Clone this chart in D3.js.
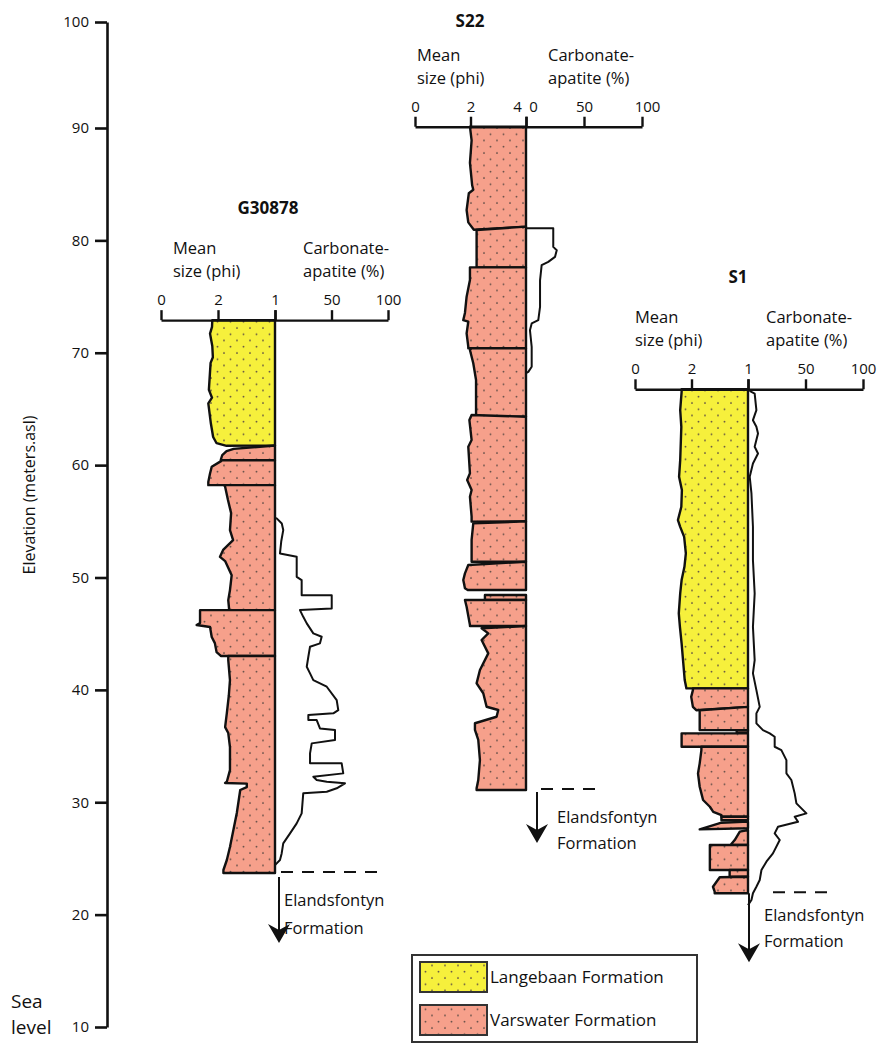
<!DOCTYPE html>
<html>
<head>
<meta charset="utf-8">
<script src="https://cdn.jsdelivr.net/npm/d3@7"></script>
<style>
  body { margin: 0; background: #fff; }
  svg text { font-family: "Open Sans", sans-serif; fill: #111; }
</style>
</head>
<body>
<script>

// ---- Data ----

// Elevation axis (metres above sea level)
const elevationTicks = [10, 20, 30, 40, 50, 60, 70, 80, 90, 100];

// Legend / formations
const formationNames = ["Langebaan Formation", "Varswater Formation"];
const formationColors = ["#f6f03c", "#f6a08b"];

// Boreholes
const columnNames = ["G30878", "S22", "S1"];
const columnTops = [72.9, 90.12, 66.75];        // elevation of the log header
const meanTickValues = [0, 2, 4];
const carbTickValues = [0, 50, 100];
const meanTickLabels = [["0", "2", "1"], ["0", "2", "4"], ["0", "2", "1"]];
const carbTickLabels = [["", "50", "100"], ["0", "50", "100"], ["", "50", "100"]];

// Layers: formation index, top / bottom elevation at the right edge,
// left edge as [elevation, mean size (phi)]
const g30878Layers = [
  {f: 0, top: 72.9, bottom: 61.75, edge: [[72.9, 1.8], [72.3, 1.79], [71.7, 1.72], [70.6, 1.8], [69.6, 1.82], [69.1, 1.74], [66.7, 1.68], [66.0, 1.79], [65.5, 1.66], [63.7, 1.75], [62.5, 1.83], [61.95, 1.95], [61.72, 2.3]]},
  {f: 1, top: 61.75, bottom: 60.44, edge: [[61.45, 2.55], [61.25, 2.3], [60.9, 2.15], [60.5, 2.1], [60.44, 2.1]]},
  {f: 1, top: 60.44, bottom: 58.22, edge: [[60.44, 2.12], [60.38, 2.12], [59.85, 1.78], [59.26, 1.72], [58.51, 1.66], [58.22, 1.66]]},
  {f: 1, top: 58.22, bottom: 47.1, edge: [[58.22, 2.22], [58.07, 2.25], [56.89, 2.35], [55.73, 2.46], [54.22, 2.42], [53.33, 2.53], [52.45, 2.18], [51.84, 2.07], [51.46, 2.25], [50.21, 2.48], [48.88, 2.42], [47.99, 2.36], [47.19, 2.39], [47.1, 2.39]]},
  {f: 1, top: 47.1, bottom: 43.01, edge: [[47.1, 1.37], [45.94, 1.37], [45.77, 1.25], [45.59, 1.72], [44.7, 1.78], [44.16, 1.89], [43.36, 1.95], [43.1, 2.07], [43.01, 2.1]]},
  {f: 1, top: 43.01, bottom: 23.7, edge: [[43.01, 2.36], [42.65, 2.36], [40.87, 2.42], [39.5, 2.38], [37.94, 2.31], [36.69, 2.25], [36.16, 2.36], [34.91, 2.42], [32.86, 2.42], [31.82, 2.31], [31.71, 2.25], [31.66, 3.01], [31.35, 3.01], [31.09, 2.78], [29.04, 2.66], [27.53, 2.54], [26.01, 2.42], [24.86, 2.31], [23.97, 2.19], [23.7, 2.19]]}
];

const s22Layers = [
  {f: 1, top: 90.12, bottom: 81.22, edge: [[90.12, 1.98], [88.9, 2.04], [86.9, 1.98], [84.9, 2.06], [84.5, 2.1], [84.2, 1.94], [82.7, 1.86], [81.6, 1.92], [80.95, 2.12]]},
  {f: 1, top: 81.22, bottom: 77.6, edge: [[80.92, 2.22], [77.66, 2.22], [77.6, 2.22]]},
  {f: 1, top: 77.6, bottom: 70.4, edge: [[77.6, 1.98], [76.47, 1.98], [74.99, 1.86], [73.54, 1.8], [72.91, 1.74], [72.76, 1.92], [71.73, 1.86], [70.54, 1.92], [70.4, 1.92]]},
  {f: 1, top: 70.4, bottom: 64.31, edge: [[70.4, 2.04], [70.25, 1.98], [69.06, 2.1], [67.58, 2.2], [64.61, 2.2], [64.31, 2.2]]},
  {f: 1, top: 64.31, bottom: 55.0, edge: [[64.46, 2.04], [64.01, 1.96], [62.23, 2.04], [61.64, 1.92], [59.27, 1.98], [58.68, 1.88], [57.79, 2.04], [57.19, 1.98], [55.41, 2.04], [54.97, 2.04]]},
  {f: 1, top: 55.0, bottom: 51.4, edge: [[54.82, 2.1], [53.34, 2.04], [51.55, 2.04], [51.4, 2.04]]},
  {f: 1, top: 51.4, bottom: 48.89, edge: [[51.11, 1.92], [50.37, 1.8], [49.78, 1.74], [49.04, 1.8], [48.89, 1.9]]},
  {f: 1, top: 48.44, bottom: 48.0, edge: [[48.44, 2.52], [48.0, 2.52]]},
  {f: 1, top: 48.0, bottom: 45.68, edge: [[48.0, 1.8], [47.4, 1.86], [45.77, 1.98], [45.68, 1.98]]},
  {f: 1, top: 45.68, bottom: 31.09, edge: [[45.48, 2.4], [45.03, 2.64], [44.44, 2.4], [43.25, 2.64], [41.77, 2.34], [40.58, 2.22], [39.7, 2.46], [38.5, 2.58], [38.21, 3.0], [37.61, 2.94], [37.03, 2.16], [36.43, 2.16], [35.54, 2.28], [33.76, 2.34], [31.98, 2.28], [31.24, 2.22], [31.09, 2.22]]}
];

const s1Layers = [
  {f: 0, top: 66.75, bottom: 40.13, edge: [[66.75, 1.65], [66.52, 1.65], [64.89, 1.6], [63.41, 1.64], [60.44, 1.6], [58.96, 1.56], [57.78, 1.66], [56.29, 1.64], [55.11, 1.52], [54.51, 1.6], [53.62, 1.74], [52.14, 1.8], [50.95, 1.75], [49.77, 1.65], [48.58, 1.6], [46.81, 1.55], [45.61, 1.59], [44.14, 1.65], [42.65, 1.7], [40.87, 1.76], [40.13, 1.82]]},
  {f: 1, top: 40.13, bottom: 38.49, edge: [[40.13, 2.05], [39.98, 2.05], [39.38, 1.99], [38.49, 2.05], [38.19, 2.17]]},
  {f: 1, top: 38.49, bottom: 36.42, edge: [[38.19, 2.29], [37.98, 2.29], [36.65, 2.29], [36.42, 2.29]]},
  {f: 1, top: 36.42, bottom: 36.2, edge: [[36.42, 3.6], [36.2, 3.6]]},
  {f: 1, top: 36.13, bottom: 34.94, edge: [[36.13, 1.65], [34.94, 1.65]]},
  {f: 1, top: 34.94, bottom: 28.71, edge: [[34.94, 2.35], [34.64, 2.35], [33.46, 2.29], [32.57, 2.23], [31.38, 2.29], [30.79, 2.35], [30.2, 2.41], [29.6, 2.65], [29.15, 2.77], [28.86, 3.06], [28.71, 3.06]]},
  {f: 1, top: 28.71, bottom: 28.4, edge: [[28.71, 3.06], [28.4, 3.06]]},
  {f: 1, top: 28.28, bottom: 27.68, edge: [[28.18, 3.06], [27.59, 2.29]]},
  {f: 1, top: 27.53, bottom: 26.19, edge: [[27.38, 3.71], [26.64, 3.53], [26.28, 3.41], [26.19, 3.41]]},
  {f: 1, top: 26.19, bottom: 23.97, edge: [[26.19, 2.65], [26.04, 2.65], [24.26, 2.65], [23.97, 2.65]]},
  {f: 1, top: 23.97, bottom: 23.37, edge: [[23.97, 3.35], [23.37, 3.35]]},
  {f: 1, top: 23.37, bottom: 21.9, edge: [[23.32, 3.0], [22.48, 2.76], [22.04, 2.82], [21.9, 2.82]]}
];

// Carbonate-apatite curves: [elevation, percent]
const g30878Carbonate = [[55.3, 0], [55.26, 1.5], [54.8, 6], [54.22, 7.3], [53.2, 5.5], [52.14, 4.4], [51.84, 19.2], [50.06, 19.2], [49.77, 23.6], [48.43, 23.6], [48.43, 50.2], [47.25, 50.2], [47.1, 22.1], [46.5, 25.0], [45.92, 28.1], [45.03, 33.9], [44.73, 41.3], [44.14, 39.8], [43.84, 31.0], [42.95, 29.5], [42.06, 28.1], [41.47, 31.0], [40.87, 33.9], [40.28, 45.8], [39.09, 54.6], [38.2, 56.0], [37.91, 51.6], [37.76, 29.5], [37.31, 29.5], [37.31, 36.9], [36.57, 39.8], [36.42, 53.1], [35.53, 53.1], [35.24, 32.5], [34.35, 31.0], [33.46, 31.0], [33.46, 59.0], [32.57, 60.4], [32.27, 33.9], [31.98, 36.9], [31.82, 45.8], [31.68, 61.9], [31.24, 54.6], [30.94, 45.8], [30.79, 25.0], [29.01, 23.6], [28.12, 19.2], [27.23, 13.3], [26.34, 7.3], [25.45, 5.9], [24.86, 4.4], [24.56, 1.5], [24.4, 0]];

const s22Carbonate = [[81.07, 0], [81.07, 23.5], [79.42, 23.5], [79.13, 26.5], [78.53, 25.0], [78.09, 19.2], [77.79, 13.5], [76.45, 12.1], [74.08, 12.1], [72.9, 10.6], [72.61, 4.9], [72.01, 3.4], [70.53, 4.9], [68.75, 4.9], [68.3, 2.0], [68.2, 0]];

const s1Carbonate = [[66.75, 0], [66.52, 3.0], [66.37, 5.8], [64.89, 7.3], [64.0, 4.3], [63.41, 7.3], [62.82, 8.7], [61.63, 5.8], [61.04, 8.7], [60.15, 4.3], [58.96, 1.5], [57.48, 3.0], [54.51, 4.3], [51.55, 4.3], [48.58, 5.8], [45.61, 4.3], [42.65, 5.8], [41.47, 4.3], [39.98, 7.3], [38.49, 10.2], [37.91, 7.3], [37.02, 7.3], [36.42, 13.0], [36.13, 18.9], [35.83, 23.2], [34.94, 23.2], [34.64, 29.0], [33.75, 33.4], [32.57, 33.4], [31.98, 37.7], [30.79, 40.6], [29.9, 42.1], [29.01, 50.8], [28.71, 40.6], [28.26, 43.5], [27.82, 26.1], [27.23, 23.2], [26.64, 27.6], [25.45, 21.7], [24.71, 16.0], [23.97, 11.7], [23.08, 10.2], [22.48, 7.3], [21.9, 4.3], [21.3, 3.0], [20.85, 0]];

const columnLayers = [g30878Layers, s22Layers, s1Layers];
const columnCarbonate = [g30878Carbonate, s22Carbonate, s1Carbonate];


// ---- Layout (pixels) ----
const width = 883;
const height = 1046;
const axisX = 107;

const layout = [
  {mean: [161, 275], carb: [275, 388], titleX: 268, titleDy: 106, leftTextX: 173, rightTextX: 303, arrowX: 279, arrowGap: 4, arrowLen: 70, dash: [281, 380], noteX: 284, noteY: [906, 934]},
  {mean: [415, 526], carb: [526, 642], titleX: 470, titleDy: 100, leftTextX: 417, rightTextX: 548, arrowX: 537, arrowGap: 2, arrowLen: 53, dash: [541, 598], noteX: 557, noteY: [823, 849]},
  {mean: [635, 748], carb: [748, 863], titleX: 738, titleDy: 106, leftTextX: 635, rightTextX: 766, arrowX: 749, arrowGap: 0, arrowLen: 69, dash: [773, 829], noteX: 764, noteY: [921, 947]}
];


// ---- Drawing ----
const svg = d3.select("body").append("svg")
    .attr("width", width)
    .attr("height", height)
    .attr("viewBox", [0, 0, width, height]);

// Dot patterns for the formation fills
const defs = svg.append("defs");
formationColors.forEach((color, i) => {
    const p = defs.append("pattern")
        .attr("id", `dots-${i}`)
        .attr("patternUnits", "userSpaceOnUse")
        .attr("width", 13)
        .attr("height", 12.5);
    p.append("rect").attr("width", 13).attr("height", 12.5).attr("fill", color);
    p.append("circle").attr("cx", 3).attr("cy", 3).attr("r", 0.95).attr("fill", "#5a4a44");
    p.append("circle").attr("cx", 9.5).attr("cy", 9.25).attr("r", 0.95).attr("fill", "#5a4a44");
});

// Elevation scale shared by all logs (the printed axis is a little
// compressed between 90 and 100)
const y = d3.scaleLinear().domain([10, 90, 100]).range([1027, 128, 22]);

// Main elevation axis
const yAxis = d3.axisLeft(y)
    .tickValues(elevationTicks)
    .tickSize(12)
    .tickSizeOuter(0)
    .tickPadding(6);

const yAxisRef = svg.append("g")
    .attr("transform", `translate(${axisX}, 0)`)
    .call(yAxis);

yAxisRef.call(g => {
    g.select(".domain").attr("stroke", "#111").attr("stroke-width", 2.6);
    g.selectAll(".tick line").attr("stroke", "#111").attr("stroke-width", 2.6);
    g.selectAll(".tick text").attr("font-size", 15).attr("font-family", "Open Sans, sans-serif").attr("fill", "#111");
});

svg.append("text")
    .attr("transform", `translate(35, 495) rotate(-90)`)
    .attr("text-anchor", "middle")
    .attr("font-size", 16)
    .text("Elevation (meters.asl)");

// "Sea level" sits beside the 10 m tick
svg.append("text").attr("x", 11).attr("y", 1008).attr("font-size", 19).text("Sea");
svg.append("text").attr("x", 11).attr("y", 1034).attr("font-size", 19).text("level");

// Draw each borehole log
columnNames.forEach((name, ci) => {
    const L = layout[ci];
    const meanScale = d3.scaleLinear().domain([0, 4]).range(L.mean);
    const carbScale = d3.scaleLinear().domain([0, 100]).range(L.carb);
    const topY = y(columnTops[ci]);
    const g = svg.append("g");

    // Layers
    const layerLine = d3.line()
        .x(d => meanScale(d[1]))
        .y(d => y(d[0]));

    g.selectAll("path.layer")
        .data(columnLayers[ci])
        .join("path")
        .attr("class", "layer")
        .attr("d", layer => layerLine([[layer.top, 4], ...layer.edge, [layer.bottom, 4]]) + "Z")
        .attr("fill", layer => `url(#dots-${layer.f})`)
        .attr("stroke", "#111")
        .attr("stroke-width", 2.4)
        .attr("stroke-linejoin", "round");

    // Carbonate-apatite curve
    const carbLine = d3.line()
        .x(d => carbScale(d[1]))
        .y(d => y(d[0]));

    g.append("path")
        .attr("d", carbLine(columnCarbonate[ci]))
        .attr("fill", "none")
        .attr("stroke", "#111")
        .attr("stroke-width", 2)
        .attr("stroke-linejoin", "round");

    // Header axes
    const meanAxis = d3.axisTop(meanScale)
        .tickValues(meanTickValues)
        .tickSize(10)
        .tickSizeOuter(0)
        .tickPadding(5)
        .tickFormat((d, i) => meanTickLabels[ci][i]);
    const carbAxis = d3.axisTop(carbScale)
        .tickValues(carbTickValues)
        .tickSize(10)
        .tickSizeOuter(0)
        .tickPadding(5)
        .tickFormat((d, i) => carbTickLabels[ci][i]);

    [meanAxis, carbAxis].forEach((ax, ai) => {
        const a = g.append("g")
            .attr("transform", `translate(0, ${topY})`)
            .call(ax);
        a.select(".domain").attr("stroke", "#111").attr("stroke-width", 2.4);
        a.selectAll(".tick line").attr("stroke", "#111").attr("stroke-width", 2.4);
        a.selectAll(".tick text")
            .attr("font-size", 15)
            .attr("font-family", "Open Sans, sans-serif")
            .attr("fill", "#111");
        // S22 shares the 4 / 0 tick; nudge the two labels apart
        if (ci === 1) {
            a.selectAll(".tick text").attr("dx", (d, i) => (ai === 0 && i === 2) ? -9 : (ai === 1 && i === 0) ? 7 : (ai === 1 && i === 2) ? 5 : 0);
        }
    });

    // Header text
    g.append("text")
        .attr("x", L.titleX).attr("y", topY - L.titleDy)
        .attr("text-anchor", "middle")
        .attr("font-size", 17)
        .attr("font-weight", "bold")
        .text(name);
    g.append("text").attr("x", L.leftTextX).attr("y", topY - 66).attr("font-size", 16.5).text("Mean");
    g.append("text").attr("x", L.leftTextX).attr("y", topY - 43).attr("font-size", 16.5).text("size (phi)");
    g.append("text").attr("x", L.rightTextX).attr("y", topY - 66).attr("font-size", 16.5).text("Carbonate-");
    g.append("text").attr("x", L.rightTextX).attr("y", topY - 43).attr("font-size", 16.5).text("apatite (%)");

    // Base contact, arrow and Elandsfontyn label
    const layers = columnLayers[ci];
    const baseY = y(layers[layers.length - 1].bottom);

    g.append("line")
        .attr("x1", L.dash[0]).attr("x2", L.dash[1])
        .attr("y1", baseY - 1).attr("y2", baseY - 1)
        .attr("stroke", "#111")
        .attr("stroke-width", 2)
        .attr("stroke-dasharray", "12,9");

    const tipY = baseY + L.arrowLen;
    g.append("line")
        .attr("x1", L.arrowX).attr("x2", L.arrowX)
        .attr("y1", baseY + L.arrowGap).attr("y2", tipY - 10)
        .attr("stroke", "#111")
        .attr("stroke-width", 2);
    g.append("path")
        .attr("d", `M${L.arrowX - 11},${tipY - 19} L${L.arrowX},${tipY} L${L.arrowX + 11},${tipY - 19} L${L.arrowX},${tipY - 13} Z`)
        .attr("fill", "#111");

    g.append("text").attr("x", L.noteX).attr("y", L.noteY[0]).attr("font-size", 16.5).text("Elandsfontyn");
    g.append("text").attr("x", L.noteX).attr("y", L.noteY[1]).attr("font-size", 16.5).text("Formation");
});

// Legend
const legend = svg.append("g");
legend.append("rect")
    .attr("x", 412).attr("y", 955)
    .attr("width", 285).attr("height", 87)
    .attr("fill", "#fff")
    .attr("stroke", "#333")
    .attr("stroke-width", 2);

const legendY = d3.scalePoint().domain(formationNames).range([977, 1020]);

legend.selectAll("rect.swatch")
    .data(formationNames)
    .join("rect")
    .attr("class", "swatch")
    .attr("x", 420)
    .attr("y", d => legendY(d) - 15)
    .attr("width", 67)
    .attr("height", 30)
    .attr("fill", (d, i) => `url(#dots-${i})`)
    .attr("stroke", "#333")
    .attr("stroke-width", 2);

legend.selectAll("text.label")
    .data(formationNames)
    .join("text")
    .attr("class", "label")
    .attr("x", 490)
    .attr("y", d => legendY(d) + 6)
    .attr("font-size", 17)
    .text(d => d);

</script>
</body>
</html>
